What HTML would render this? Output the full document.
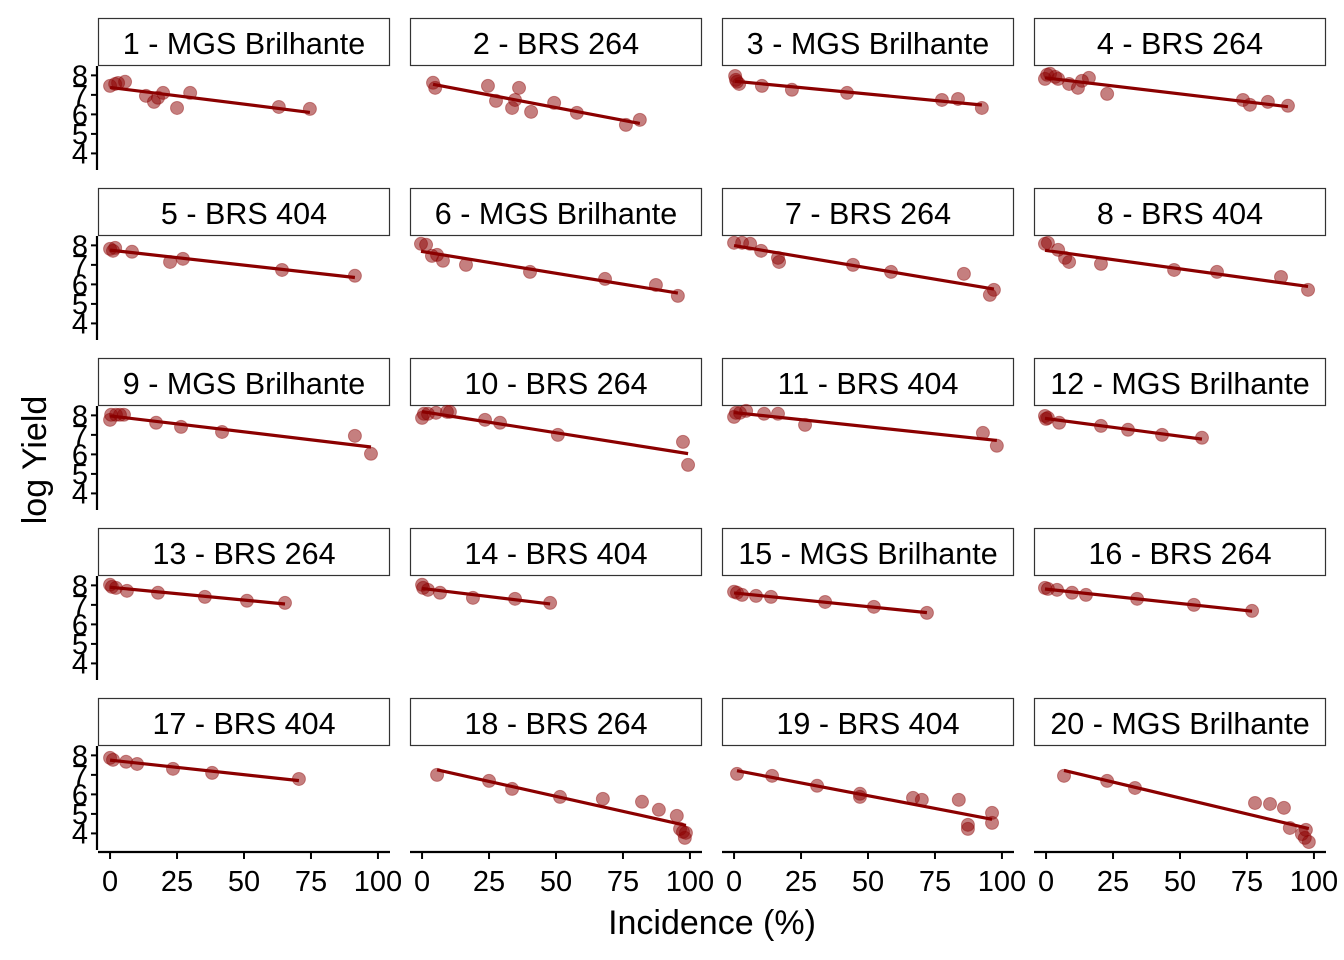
<!DOCTYPE html>
<html><head><meta charset="utf-8"><style>
html,body{margin:0;padding:0;background:#fff;}
svg{display:block;font-family:"Liberation Sans",Arial,sans-serif;}
</style></head><body>
<svg id="chart" width="1344" height="960" viewBox="0 0 1344 960" xmlns="http://www.w3.org/2000/svg">
<text x="0" y="0" transform="translate(46,460) rotate(-90)" text-anchor="middle" font-size="34">log Yield</text>
<text x="712" y="934" text-anchor="middle" font-size="34">Incidence (%)</text>
</svg>
<script>
const titles=["1 - MGS Brilhante","2 - BRS 264","3 - MGS Brilhante","4 - BRS 264","5 - BRS 404","6 - MGS Brilhante","7 - BRS 264","8 - BRS 404","9 - MGS Brilhante","10 - BRS 264","11 - BRS 404","12 - MGS Brilhante","13 - BRS 264","14 - BRS 404","15 - MGS Brilhante","16 - BRS 264","17 - BRS 404","18 - BRS 264","19 - BRS 404","20 - MGS Brilhante"];
const incidence=[
[0,1.9,3,5.6,13.4,16.4,17.9,19.8,25,29.9,63,74.6],
[4.1,4.9,24.6,27.6,33.6,34.7,36.2,40.7,49.3,57.8,76.1,81.3],
[0.4,0.7,1.1,1.9,10.4,21.6,42.2,77.6,83.6,92.5],
[-0.4,0.4,1.5,3.4,4.5,8.6,11.9,13.4,16,22.8,73.5,76.1,82.8,90.3],
[0,1.1,1.9,8.2,22.4,27.2,64.2,91.4],
[-0.4,1.5,3.7,5.6,7.8,16.4,40.3,68.3,87.3,95.5],
[0,3,6,10.1,16.4,16.8,44.4,58.6,85.8,95.5,97],
[-0.4,0.7,4.5,7.1,8.6,20.5,47.8,63.8,87.7,97.8],
[0,0.4,2.2,3.7,5.2,17.2,26.5,41.8,91.4,97.4],
[0,0.7,2.2,5.2,9.3,10.4,23.5,29.1,50.7,97.4,99.3],
[0,0.7,2.2,4.5,11.2,16.4,26.5,92.9,98.1],
[-0.4,0,0.7,4.9,20.5,30.6,43.3,58.2],
[0,0.7,2.2,6.3,17.9,35.4,51.1,65.3],
[0,0.4,2.2,6.7,19,34.7,47.8],
[0,1.1,3,8.2,13.8,34,52.2,72],
[-0.4,0.7,4.1,9.7,14.9,34,55.2,76.9],
[0,1.1,6,10.1,23.5,38.1,70.5],
[5.6,25,33.6,51.5,67.5,82.1,88.4,95.1,96.3,97.4,98.1,98.5],
[1.1,14.2,31,47,47,66.8,70.1,83.9,87.3,87.3,96.3,96.3],
[6.7,22.8,33.2,78,83.6,88.8,91,95.5,96.6,98.1,97]
];
const logYield=[
[7.46,7.56,7.61,7.67,6.95,6.64,6.85,7.1,6.33,7.1,6.38,6.28],
[7.62,7.36,7.46,6.69,6.33,6.74,7.36,6.13,6.59,6.08,5.46,5.72],
[7.97,7.77,7.67,7.56,7.46,7.26,7.1,6.74,6.79,6.33],
[7.82,8.03,8.08,7.92,7.82,7.56,7.36,7.72,7.87,7.05,6.74,6.49,6.64,6.44],
[7.82,7.72,7.87,7.67,7.15,7.31,6.74,6.44],
[8.08,8.03,7.46,7.51,7.21,7.0,6.64,6.28,5.97,5.41],
[8.13,8.13,8.08,7.72,7.36,7.15,7.0,6.64,6.54,5.46,5.72],
[8.08,8.13,7.77,7.36,7.15,7.05,6.74,6.64,6.38,5.72],
[7.77,8.03,8.03,8.03,8.03,7.62,7.41,7.15,6.95,6.03],
[7.87,8.08,8.08,8.13,8.18,8.18,7.77,7.62,7.0,6.64,5.46],
[7.92,8.13,8.13,8.23,8.08,8.08,7.51,7.1,6.44],
[7.97,7.82,7.87,7.62,7.46,7.26,7.0,6.85],
[8.03,7.92,7.87,7.72,7.62,7.41,7.21,7.1],
[8.03,7.87,7.77,7.62,7.36,7.31,7.1],
[7.67,7.62,7.51,7.46,7.41,7.15,6.9,6.59],
[7.87,7.82,7.77,7.62,7.51,7.31,7.0,6.69],
[7.87,7.77,7.67,7.56,7.31,7.1,6.79],
[7.0,6.69,6.28,5.87,5.77,5.62,5.21,4.9,4.23,4.08,3.77,4.03],
[7.05,6.95,6.44,6.03,5.87,5.82,5.72,5.72,4.44,4.23,5.05,4.54],
[6.95,6.69,6.33,5.56,5.51,5.31,4.28,3.97,3.77,3.56,4.18]
];
const xTicks=[0,25,50,75,100];
const yTicks=[4,5,6,7,8];

const NS="http://www.w3.org/2000/svg";
const svg=document.getElementById('chart');
function mk(tag,attrs,parent){const e=document.createElementNS(NS,tag);for(const k in attrs)e.setAttribute(k,attrs[k]);(parent||svg).appendChild(e);return e;}
const colX=[98,410,722,1034], PW=292, rowY=[18,188,358,528,698], SH=48, PH=104;
const xMin=-4.5,xMax=104.5,yMin=3.15,yMax=8.48;
function sx(c,v){return colX[c]+(v-xMin)/(xMax-xMin)*PW;}
function sy(r,v){const top=rowY[r]+SH;return top+(yMax-v)/(yMax-yMin)*PH;}
const RED="#8B0000";

titles.forEach((t,i)=>{
  const c=i%4,r=Math.floor(i/4);
  const g=mk('g',{});
  
  
  const strip=mk('rect',{x:colX[c]+0.5,y:rowY[r]+0.5,width:PW-1,height:SH-1,fill:'#fff',stroke:'#333','stroke-width':1.2},g);
  
  
  const st=mk('text',{x:colX[c]+PW/2,y:rowY[r]+36,'text-anchor':'middle','font-size':30.5},g);
  
  
  st.textContent=t;
  const xs=incidence[i],ys=logYield[i];
  const n=xs.length;let mx=0,my=0;for(let k=0;k<n;k++){mx+=xs[k];my+=ys[k];}mx/=n;my/=n;
  let sxy=0,sxx=0;for(let k=0;k<n;k++){sxy+=(xs[k]-mx)*(ys[k]-my);sxx+=(xs[k]-mx)**2;}
  const b=sxy/sxx,a=my-b*mx;
  const x0=Math.min(...xs),x1=Math.max(...xs);
  for(let k=0;k<n;k++){
    const p=mk('circle',{cx:sx(c,xs[k]),cy:sy(r,ys[k]),r:6.5,fill:RED,'fill-opacity':0.5,stroke:RED,'stroke-opacity':0.4,'stroke-width':1},g);
    
    
  }
  const ln=mk('line',{x1:sx(c,x0),y1:sy(r,a+b*x0),x2:sx(c,x1),y2:sy(r,a+b*x1),stroke:RED,'stroke-width':3.2},g);
  
  
  if(c===0){
    const top=rowY[r]+SH;
    const ax=mk('line',{x1:97,y1:top,x2:97,y2:top+PH,stroke:'#000','stroke-width':2.2},g);
    
    
    yTicks.forEach(v=>{
      mk('line',{x1:91,y1:sy(r,v),x2:97,y2:sy(r,v),stroke:'#000','stroke-width':2},g);
      const tl=mk('text',{x:88,y:sy(r,v)+10,'text-anchor':'end','font-size':29},g);
      
      
      tl.textContent=v;
    });
  }
  if(r===4){
    const by=rowY[r]+SH+PH+2;
    const ax=mk('line',{x1:colX[c],y1:by,x2:colX[c]+PW,y2:by,stroke:'#000','stroke-width':2.2},g);
    
    
    xTicks.forEach(v=>{
      mk('line',{x1:sx(c,v),y1:by,x2:sx(c,v),y2:by+7,stroke:'#000','stroke-width':2},g);
      const tl=mk('text',{x:sx(c,v),y:by+39,'text-anchor':'middle','font-size':29},g);
      
      
      tl.textContent=v;
    });
  }
});
</script>
</body></html>
